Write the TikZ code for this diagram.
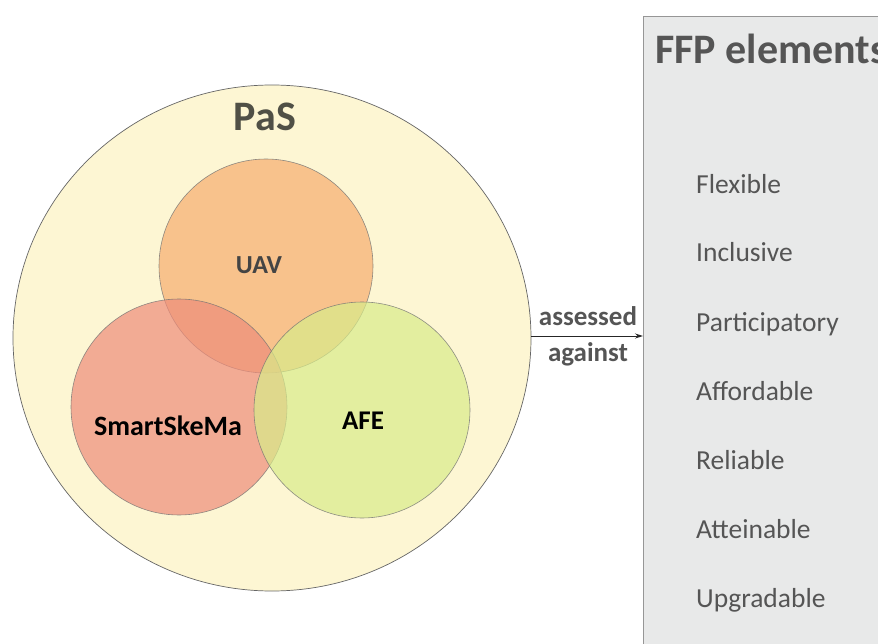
\documentclass[tikz,border=0pt]{standalone}
\usepackage{fontspec}
\setmainfont{Carlito}
\usetikzlibrary{arrows.meta}
\definecolor{cream}{RGB}{253,246,211}
\definecolor{uavc}{RGB}{246,172,110}
\definecolor{smartc}{RGB}{238,140,122}
\definecolor{afec}{RGB}{216,236,138}
\definecolor{boxfill}{RGB}{232,233,233}
\definecolor{boxline}{RGB}{150,150,150}
\definecolor{txtgray}{RGB}{85,85,85}
\definecolor{pasgray}{RGB}{80,80,70}
\tikzset{
  venn/.style={draw=black!55, line width=0.6pt, fill opacity=0.7, draw opacity=0.8},
  item/.style={anchor=base west, font=\fontsize{27.5}{32}\selectfont, text=txtgray, inner sep=0pt},
  vlabel/.style={font=\bfseries\fontsize{26}{30}\selectfont, inner sep=0pt},
  asslabel/.style={font=\bfseries\fontsize{27}{30}\selectfont, text=txtgray, inner sep=0pt},
}
\begin{document}
\begin{tikzpicture}[x=1pt,y=-1pt]
\useasboundingbox (0,0) rectangle (878,644);
\clip (0,0) rectangle (878,644);
% outer PaS
\draw[fill=cream, draw=black!60, line width=0.7pt] (272,338) ellipse [x radius=259, y radius=253];
\node (pas) [font=\bfseries\fontsize{42}{48}\selectfont, text=pasgray, inner sep=0pt] at (265,117) {PaS};
% three circles
\draw[venn, fill=uavc] (266,266) circle [radius=107];
\draw[venn, fill=smartc] (179,407) circle [radius=108];
\draw[venn, fill=afec] (362,410) circle [radius=108];
\node (uav) [vlabel, text=txtgray!80!black] at (259,265) {UAV};
\node (smart) [vlabel, text=black, font=\bfseries\fontsize{28}{32}\selectfont] at (168,426) {SmartSkeMa};
\node (afe) [vlabel, text=black, font=\bfseries\fontsize{27}{32}\selectfont] at (363,421) {AFE};
% FFP box
\node (ffpbox) [draw=boxline, fill=boxfill, line width=0.8pt, anchor=north west, minimum width=260pt, minimum height=660pt, inner sep=0pt] at (643,16) {};
\node (ffptitle) [anchor=base west, font=\bfseries\fontsize{42}{48}\selectfont, text=txtgray, inner sep=0pt] at (655,64) {FFP elements};
\node (i1) [item] at (696,194) {Flexible};
\node (i2) [item] at (696,262) {Inclusive};
\node (i3) [item] at (696,331) {Participatory};
\node (i4) [item] at (696,400) {Affordable};
\node (i5) [item] at (696,469) {Reliable};
\node (i6) [item] at (696,538) {Atteinable};
\node (i7) [item] at (696,607) {Upgradable};
% arrow
\coordinate (aS) at (531,336);
\coordinate (aE) at (643,336);
\draw[-{Stealth[length=8pt,width=5pt]}, line width=0.9pt, black!85] (aS) -- (aE);
\node (ass) [asslabel] at (588,316) {assessed};
\node (aga) [asslabel] at (588,354) {against};
\end{tikzpicture}
\end{document}
